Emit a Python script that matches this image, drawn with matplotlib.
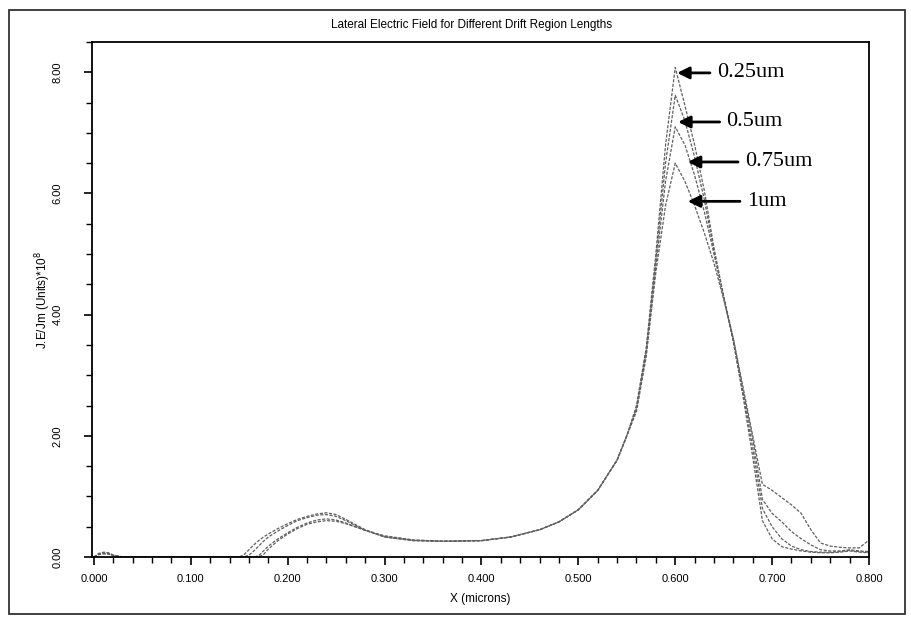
import numpy as np
import matplotlib
matplotlib.use("Agg")
import matplotlib.pyplot as plt
from matplotlib.patches import Rectangle
from matplotlib.ticker import MultipleLocator, FormatStrFormatter

# ----------------------
# Data
# ----------------------
x_um = [0.000, 0.005, 0.010, 0.015, 0.020, 0.030, 0.150, 0.155, 0.160, 0.165, 0.170,
        0.175, 0.180, 0.190, 0.200, 0.210, 0.220, 0.230, 0.240, 0.250, 0.260, 0.280,
        0.300, 0.330, 0.360, 0.400, 0.430, 0.460, 0.480, 0.500, 0.520, 0.540, 0.550,
        0.560, 0.570, 0.580, 0.590, 0.600, 0.610, 0.620, 0.630, 0.640, 0.650, 0.660,
        0.670, 0.680, 0.690, 0.700, 0.710, 0.720, 0.730, 0.740, 0.750, 0.760, 0.770,
        0.780, 0.790, 0.800]

field_025 = [0.00, 0.06, 0.08, 0.07, 0.03, 0.00, 0.00, 0.04, 0.12, 0.20, 0.27,
             0.33, 0.38, 0.47, 0.55, 0.62, 0.67, 0.71, 0.73, 0.70, 0.62, 0.45,
             0.33, 0.27, 0.26, 0.27, 0.33, 0.45, 0.58, 0.78, 1.10, 1.60, 2.00,
             2.50, 3.45, 5.00, 6.80, 8.08, 7.45, 6.80, 6.05, 5.10, 4.30, 3.55,
             2.65, 1.65, 0.60, 0.30, 0.17, 0.13, 0.10, 0.08, 0.07, 0.07, 0.08,
             0.10, 0.08, 0.07]
field_05 = [0.00, 0.05, 0.07, 0.06, 0.03, 0.00, 0.00, 0.00, 0.03, 0.10, 0.18,
            0.26, 0.33, 0.43, 0.52, 0.60, 0.65, 0.69, 0.70, 0.67, 0.60, 0.44,
            0.33, 0.27, 0.26, 0.27, 0.33, 0.45, 0.58, 0.78, 1.10, 1.60, 2.00,
            2.45, 3.40, 4.90, 6.50, 7.62, 7.20, 6.60, 5.90, 5.05, 4.30, 3.55,
            2.70, 1.80, 0.80, 0.50, 0.30, 0.18, 0.12, 0.09, 0.08, 0.08, 0.09,
            0.11, 0.09, 0.08]
field_075 = [0.00, 0.04, 0.06, 0.05, 0.02, 0.00, 0.00, 0.00, 0.00, 0.00, 0.02,
             0.10, 0.18, 0.30, 0.40, 0.49, 0.56, 0.61, 0.63, 0.61, 0.56, 0.44,
             0.34, 0.28, 0.26, 0.27, 0.33, 0.45, 0.58, 0.78, 1.10, 1.60, 2.00,
             2.45, 3.35, 4.80, 6.20, 7.10, 6.80, 6.30, 5.70, 5.00, 4.30, 3.60,
             2.75, 1.95, 0.95, 0.72, 0.58, 0.42, 0.30, 0.20, 0.12, 0.10, 0.10,
             0.12, 0.10, 0.09]
field_1 = [0.00, 0.04, 0.05, 0.05, 0.02, 0.00, 0.00, 0.00, 0.00, 0.00, 0.00,
           0.04, 0.13, 0.27, 0.38, 0.47, 0.54, 0.58, 0.60, 0.59, 0.55, 0.44,
           0.35, 0.28, 0.26, 0.27, 0.33, 0.45, 0.58, 0.78, 1.10, 1.60, 2.00,
           2.40, 3.30, 4.70, 5.80, 6.50, 6.20, 5.80, 5.35, 4.85, 4.25, 3.60,
           2.80, 2.00, 1.20, 1.10, 0.98, 0.86, 0.72, 0.45, 0.23, 0.18, 0.16,
           0.15, 0.15, 0.28]

labels = ["0.25um", "0.5um", "0.75um", "1um"]
# arrow head (x, y) and text anchor x for each label
arrow_heads = [(0.602, 7.99), (0.603, 7.18), (0.613, 6.52), (0.613, 5.87)]
text_x = [0.643, 0.653, 0.672, 0.674]

# ----------------------
# Figure
# ----------------------
plt.rcParams["font.family"] = ["Liberation Sans", "DejaVu Sans"]

fig = plt.figure(figsize=(9.11, 6.28), dpi=100)
ax = fig.add_axes([92 / 911, 1 - 557 / 628, (869 - 92) / 911, (557 - 42) / 628])

# outer frame around the whole chart
fig.patches.append(Rectangle((9 / 911, 1 - 614 / 628), 896 / 911, 604 / 628,
                             transform=fig.transFigure, fill=False,
                             edgecolor="#333333", linewidth=1.3))

for ys in [field_025, field_05, field_075, field_1]:
    ax.plot(x_um, ys, color="#606060", linewidth=0.9, linestyle=(0, (2.5, 1.2)))

ax.set_xlim(-0.002, 0.800)
ax.set_ylim(0, 8.5)

ax.xaxis.set_major_locator(MultipleLocator(0.1))
ax.xaxis.set_minor_locator(MultipleLocator(0.02))
ax.xaxis.set_major_formatter(FormatStrFormatter("%.3f"))
ax.yaxis.set_major_locator(MultipleLocator(2))
ax.yaxis.set_minor_locator(MultipleLocator(0.5))
ax.yaxis.set_major_formatter(FormatStrFormatter("%.2f"))

ax.tick_params(which="major", direction="out", length=6, width=1.2, labelsize=8)
ax.tick_params(axis="x", which="major", pad=6)
ax.tick_params(axis="y", which="major", pad=15)
ax.tick_params(which="minor", direction="out", length=4, width=1.0)
for lab in ax.get_yticklabels():
    lab.set_rotation(90)
    lab.set_va("center")
for sp in ax.spines.values():
    sp.set_linewidth(1.3)

ax.set_xlabel("X (microns)", fontsize=8.5, labelpad=7)
ax.set_ylabel("J.E/Jm (Units)*10$^{8}$", fontsize=8.5)
ax.yaxis.set_label_coords(-0.050, 0.50)
fig.text(472 / 911, 1 - 25 / 628, "Lateral Electric Field for Different Drift Region Lengths",
         ha="center", va="center", fontsize=8.5)

for lab, (hx, hy), tx in zip(labels, arrow_heads, text_x):
    ax.annotate(lab, xy=(hx, hy), xytext=(tx, hy), ha="left", va="center",
                fontsize=16, family="Liberation Serif",
                arrowprops=dict(arrowstyle="-|>", color="black", lw=2.0,
                                mutation_scale=18, shrinkA=3, shrinkB=0))

fig.savefig("out.png", dpi=100, facecolor="white")
